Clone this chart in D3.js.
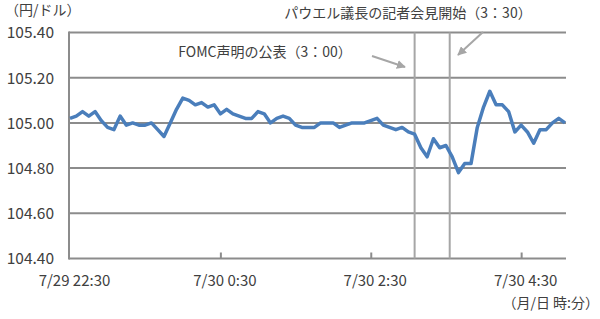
<!DOCTYPE html>
<html>
<head>
<meta charset="utf-8">
<script src="https://cdn.jsdelivr.net/npm/d3@7"></script>
<style>
  body { margin: 0; background: #fff; }
  svg { display: block; }
  text { font-family: "Noto Sans CJK JP", "Noto Sans", sans-serif; fill: #404040; }
</style>
</head>
<body>
<svg id="chart"></svg>
<script>
let w = 600
let h = 319

// USD/JPY, 5-minute points from 7/29 22:30
let startTime = "2020/7/29 22:30"
let stepMin = 5
let rates = [
  105.02, 105.03, 105.05, 105.03, 105.05, 105.01, 104.98, 104.97, 105.03, 104.99,
  105.00, 104.99, 104.99, 105.00, 104.97, 104.94, 105.00, 105.06, 105.11, 105.10,
  105.08, 105.09, 105.07, 105.08, 105.04, 105.06, 105.04, 105.03, 105.02, 105.02,
  105.05, 105.04, 105.00, 105.02, 105.03, 105.02, 104.99, 104.98, 104.98, 104.98,
  105.00, 105.00, 105.00, 104.98, 104.99, 105.00, 105.00, 105.00, 105.01, 105.02,
  104.99, 104.98, 104.97, 104.98, 104.96, 104.95, 104.89, 104.85, 104.93, 104.89,
  104.90, 104.85, 104.78, 104.82, 104.82, 104.98, 105.07, 105.14, 105.08, 105.08,
  105.05, 104.96, 104.99, 104.96, 104.91, 104.97, 104.97, 105.00, 105.02, 105.00
]

let yTicks = [104.40, 104.60, 104.80, 105.00, 105.20, 105.40]
let xTickLabels = ["7/29 22:30", "7/30 0:30", "7/30 2:30", "7/30 4:30"]

// event markers (drawn where the source put them)
let eventTimes = ["2020/7/30 3:05", "2020/7/30 3:33"]
let eventLabels = ["FOMC声明の公表（3：00）", "パウエル議長の記者会見開始（3：30）"]

let parse = d3.timeParse("%Y/%m/%d %H:%M")
let t0 = parse(startTime)
let data = rates.map((v, i) => ({ t: d3.timeMinute.offset(t0, i * stepMin), v: v }))

let plotL = 69, plotR = 566, plotT = 32.5, plotB = 258.5

let x = d3.scaleTime()
  .domain(d3.extent(data, d => d.t))
  .range([plotL + 1, plotR - 1])

let y = d3.scaleLinear()
  .domain([104.40, 105.40])
  .range([plotB, plotT])

let svg = d3.select('#chart')
  .attr('width', w)
  .attr('height', h)

let gridColor = '#8c8c8c'

// horizontal grid
svg.append('g')
  .selectAll('line')
  .data(yTicks)
  .join('line')
  .attr('x1', plotL)
  .attr('x2', plotR)
  .attr('y1', d => y(d))
  .attr('y2', d => y(d))
  .attr('stroke', gridColor)
  .attr('stroke-width', 2)

// left axis line
svg.append('line')
  .attr('x1', plotL).attr('x2', plotL)
  .attr('y1', plotT - 1).attr('y2', plotB + 1)
  .attr('stroke', gridColor)
  .attr('stroke-width', 2)

// y labels
let yAxis = svg.append('g')
  .attr('transform', 'translate(' + (plotL - 15) + ',0)')
  .call(d3.axisLeft(y).tickValues(yTicks).tickFormat(d3.format('.2f')).tickSize(0))
yAxis.select('.domain').remove()
yAxis.selectAll('text')
  .attr('x', 0)
  .attr('dy', '0.35em')
  .style('font-size', '15.5px')
  .style('fill', '#404040')

// x ticks and labels
let xTickTimes = xTickLabels.map(s => parse('2020/' + s))
let xAxis = svg.append('g')
  .attr('transform', 'translate(0,' + plotB + ')')
  .call(d3.axisBottom(x).tickValues(xTickTimes).tickSize(-6).tickFormat((d, i) => xTickLabels[i]))
xAxis.select('.domain').remove()
xAxis.selectAll('.tick line')
  .attr('stroke', gridColor)
  .attr('stroke-width', 2)
  .attr('opacity', (d, i) => i === 0 ? 0 : 1)
xAxis.selectAll('text')
  .attr('y', 22)
  .attr('dx', 4)
  .attr('dy', '0.35em')
  .style('font-size', '15px')
  .style('fill', '#404040')

// event lines
svg.append('g')
  .selectAll('line')
  .data(eventTimes)
  .join('line')
  .attr('x1', d => x(parse(d)))
  .attr('x2', d => x(parse(d)))
  .attr('y1', plotT)
  .attr('y2', plotB)
  .attr('stroke', '#a6a6a6')
  .attr('stroke-width', 2)

// rate line
svg.append('path')
  .datum(data)
  .attr('fill', 'none')
  .attr('stroke', '#4a7ebb')
  .attr('stroke-width', 3.5)
  .attr('stroke-linejoin', 'round')
  .attr('d', d3.line().x(d => x(d.t)).y(d => y(d.v)))

// arrows
let defs = svg.append('defs')
defs.append('marker')
  .attr('id', 'arr')
  .attr('viewBox', '0 0 10 10')
  .attr('refX', 9).attr('refY', 5)
  .attr('markerWidth', 4.5).attr('markerHeight', 4.5)
  .attr('orient', 'auto')
  .append('path')
  .attr('d', 'M0,0 L10,5 L0,10 z')
  .attr('fill', '#a6a6a6')

let arrows = [
  { x1: 372, y1: 56, x2: 405, y2: 67 },
  { x1: 483, y1: 32, x2: 458, y2: 55 }
]
svg.append('g')
  .selectAll('line')
  .data(arrows)
  .join('line')
  .attr('x1', d => d.x1).attr('y1', d => d.y1)
  .attr('x2', d => d.x2).attr('y2', d => d.y2)
  .attr('stroke', '#a6a6a6')
  .attr('stroke-width', 2)
  .attr('marker-end', 'url(#arr)')

// annotation texts
svg.append('text')
  .attr('x', 265).attr('y', 52)
  .attr('dy', '0.35em')
  .attr('text-anchor', 'middle')
  .style('font-size', '14px')
  .text(eventLabels[0])

svg.append('text')
  .attr('x', 408).attr('y', 13)
  .attr('dy', '0.35em')
  .attr('text-anchor', 'middle')
  .style('font-size', '14px')
  .text(eventLabels[1])

// unit labels
svg.append('text')
  .attr('x', 5).attr('y', 10)
  .attr('dy', '0.35em')
  .style('font-size', '14px')
  .text('（円/ドル）')

svg.append('text')
  .attr('x', 599).attr('y', 303)
  .attr('dy', '0.35em')
  .attr('text-anchor', 'end')
  .style('font-size', '14px')
  .text('（月/日 時:分）')
</script>
</body>
</html>
